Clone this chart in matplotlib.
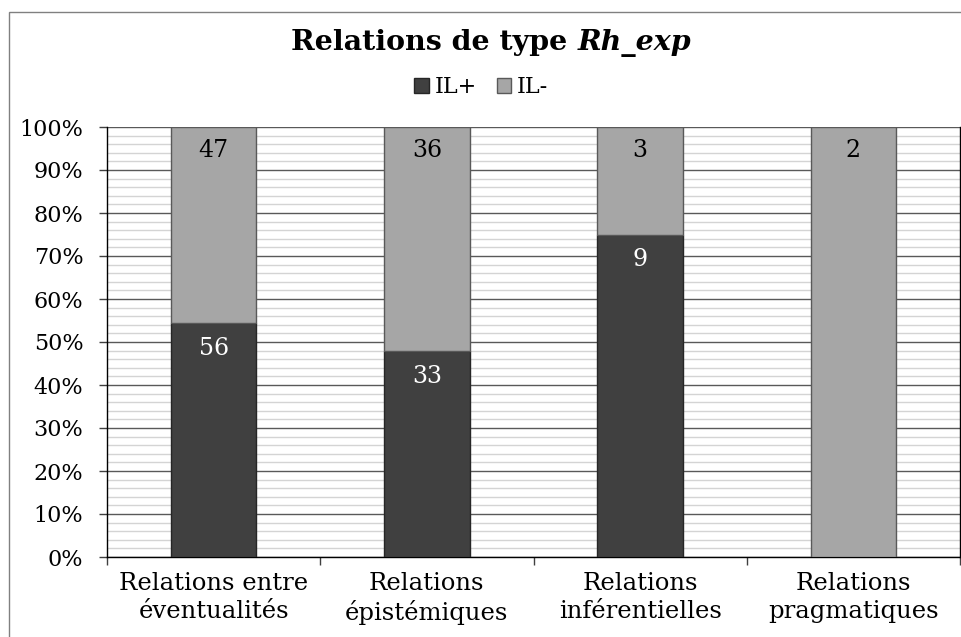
import numpy as np
import matplotlib
matplotlib.use('Agg')
import matplotlib.pyplot as plt
from matplotlib.ticker import MultipleLocator, FixedLocator, NullFormatter
from matplotlib.patches import Rectangle

plt.rcParams['font.family'] = 'DejaVu Serif'

categories = ['Relations entre\néventualités', 'Relations\népistémiques',
              'Relations\ninférentielles', 'Relations\npragmatiques']
il_plus = [56, 33, 9, 0]
il_minus = [47, 36, 3, 2]
series_names = ['IL+', 'IL-']

dark = '#404040'
light = '#a6a6a6'

plus = np.array(il_plus, dtype=float)
minus = np.array(il_minus, dtype=float)
total = plus + minus
p_plus = plus / total * 100
p_minus = minus / total * 100

fig = plt.figure(figsize=(9.62, 6.37), dpi=100)
ax = fig.add_axes([107/962, 1 - 557/637, (960 - 107)/962, (557 - 127)/637])

x = np.arange(len(categories))
w = 0.4
b1 = ax.bar(x, p_plus, w, color=dark, edgecolor='#262626', linewidth=1, zorder=3, label=series_names[0])
b2 = ax.bar(x, p_minus, w, bottom=p_plus, color=light, edgecolor='#595959', linewidth=1, zorder=3, label=series_names[1])

# value labels just inside the top of each segment
for i in range(len(categories)):
    if plus[i] > 0:
        ax.annotate(str(il_plus[i]), (x[i], p_plus[i]), xytext=(0, -18), textcoords='offset points',
                    ha='center', va='center', color='white', fontsize=17, zorder=4)
    if minus[i] > 0:
        ax.annotate(str(il_minus[i]), (x[i], 100), xytext=(0, -17), textcoords='offset points',
                    ha='center', va='center', color='black', fontsize=17, zorder=4)

ax.set_xlim(-0.5, len(categories) - 0.5)
ax.set_ylim(0, 100)
ax.yaxis.set_minor_locator(MultipleLocator(2))
ax.set_yticks(range(0, 101, 10))
ax.set_yticklabels(['%d%%' % v for v in range(0, 101, 10)], fontsize=16)
ax.grid(which='minor', axis='y', color='#d4d4d4', linewidth=1, zorder=0)
ax.grid(which='major', axis='y', color='#595959', linewidth=1, zorder=1)
ax.tick_params(axis='y', which='major', length=6, width=1, color='#404040', pad=11)
ax.tick_params(axis='y', which='minor', length=0)

ax.set_xticks(x)
ax.set_xticklabels(categories, fontsize=17.5, linespacing=1.25)
ax.xaxis.set_minor_locator(FixedLocator(np.arange(-0.5, len(categories), 1.0)))
ax.xaxis.set_minor_formatter(NullFormatter())
ax.tick_params(axis='x', which='major', length=0, pad=11)
ax.tick_params(axis='x', which='minor', length=6, width=1, color='#404040')

for s in ['left', 'bottom', 'right']:
    ax.spines[s].set_color('black')
    ax.spines[s].set_linewidth(1)
ax.spines['top'].set_visible(False)

# title: plain bold part followed by bold italic part
fig.canvas.draw()
r = fig.canvas.get_renderer()
t1 = fig.text(0, 1 - 43/637, 'Relations de type ', fontsize=20.5, fontweight='bold', va='center')
t2 = fig.text(0, 1 - 43/637, 'Rh_exp', fontsize=20.5, fontweight='bold', fontstyle='italic', va='center')
w1 = t1.get_window_extent(r).width
w2 = t2.get_window_extent(r).width
x0 = (491 - (w1 + w2) / 2) / 962
t1.set_x(x0)
t2.set_x(x0 + w1 / 962)

fig.legend(handles=[b1, b2], labels=series_names, loc='center', bbox_to_anchor=(0.5, 1 - 87/637),
           ncol=2, frameon=False, fontsize=16, handlelength=0.65, handleheight=0.65,
           handletextpad=0.25, columnspacing=0.9)

# outer chart frame
fig.patches.append(Rectangle((9/962, -0.05), 1.2, 1 - 12/637 + 0.05, transform=fig.transFigure,
                             fill=False, edgecolor='#808080', linewidth=1))

fig.savefig('out.png', dpi=100)
